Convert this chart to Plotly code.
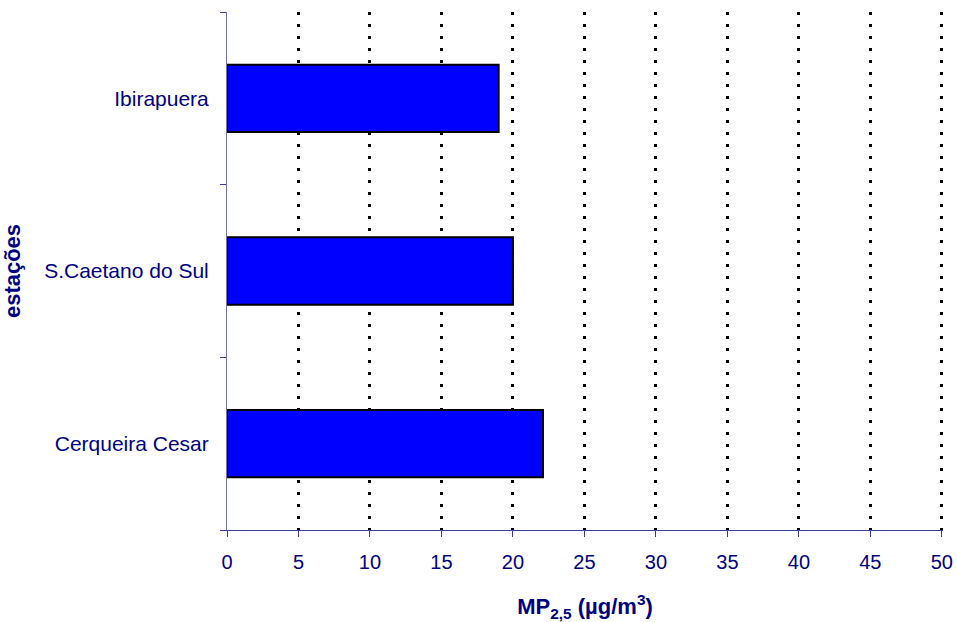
import plotly.graph_objects as go

estacoes = ["Cerqueira Cesar", "S.Caetano do Sul", "Ibirapuera"]
mp25 = [22.1, 20.0, 19.0]
x_ticks = [0, 5, 10, 15, 20, 25, 30, 35, 40, 45, 50]

navy = "#000080"

fig = go.Figure()

fig.add_trace(
    go.Bar(x=mp25, y=estacoes, orientation="h",
           marker=dict(color="#0000ff", line=dict(color="black", width=2)),
           width=0.39, showlegend=False)
)

fig.update_layout(
    width=957, height=622,
    margin=dict(l=227, r=14, t=12, b=92),
    paper_bgcolor="white", plot_bgcolor="white",
    font=dict(family="Liberation Sans, Arial, sans-serif", size=20, color=navy),
)

fig.update_xaxes(
    range=[0, 50.08], tickvals=x_ticks, ticktext=[str(v) for v in x_ticks],
    showgrid=True, gridcolor="black", gridwidth=3, griddash="3px,9px",
    zeroline=False, showline=True, linecolor="#3c3ca0", linewidth=1,
    ticks="outside", ticklen=6, tickcolor="#3c3ca0", ticklabelstandoff=8,
    tickfont=dict(size=20), automargin=False,
    title=dict(text="<b>MP<sub>2,5</sub> (µg/m<sup>3</sup>)</b>", font=dict(size=22, color=navy), standoff=26),
)

fig.update_yaxes(
    categoryorder="array", categoryarray=estacoes, range=[-0.5, 2.5],
    showgrid=False, zeroline=False, showline=True, linecolor="#7070b8", linewidth=1,
    ticks="outside", tickson="boundaries", ticklen=6, tickcolor="#3c3ca0", ticklabelstandoff=13,
    tickfont=dict(size=21), automargin=False,
    title=dict(text="<b>estações</b>", font=dict(size=22, color=navy), standoff=28),
)

# drop the default body margin so the figure fills the window exactly
fig.write_html("out.html", config={"displayModeBar": False},
               post_script="document.body.style.margin='0';document.body.style.overflow='hidden';")
